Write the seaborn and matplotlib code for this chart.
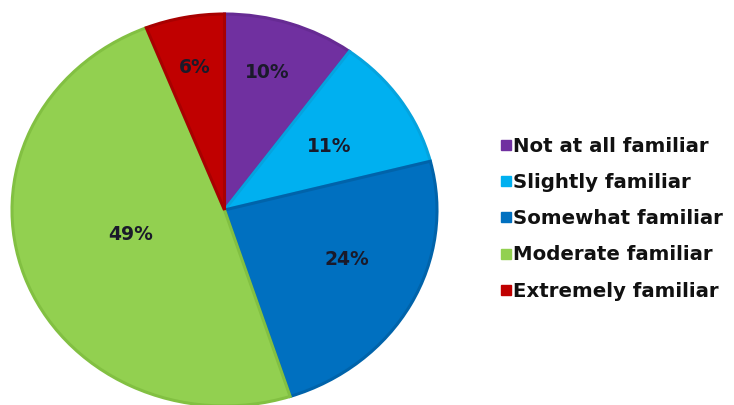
import numpy as np
import matplotlib
matplotlib.use("Agg")
import matplotlib.pyplot as plt
import seaborn as sns
from matplotlib.lines import Line2D

# Familiarity survey shares (percent)
categories = ["Not at all familiar", "Slightly familiar", "Somewhat familiar",
              "Moderate familiar", "Extremely familiar"]
shares = [10, 11, 24, 49, 6]

fill_colors = ["#7030A0", "#00B0F0", "#0070C0", "#92D050", "#C00000"]
edge_colors = ["#662b93", "#05a3de", "#0063aa", "#82c042", "#a80000"]

# label placement inside each slice: radial distance and small angular nudge
label_radius = [0.73, 0.59, 0.63, 0.46, 0.74]
label_nudge = [2, -1, 5, -4, 0]

sns.set_theme(style="white")
palette = sns.color_palette(fill_colors)
plt.rcParams["font.family"] = ["DejaVu Sans"]

W, H = 734, 405
fig = plt.figure(figsize=(W / 100, H / 100), dpi=100)
fig.patch.set_facecolor("white")

# pie occupies a slightly wide ellipse on the left
ax = fig.add_axes([12 / W, (H - 406) / H, 425 / W, 392 / H])
wedges, _ = ax.pie(shares, colors=palette, startangle=90, counterclock=False,
                   radius=1.0,
                   wedgeprops=dict(linewidth=2.2))
for w, ec in zip(wedges, edge_colors):
    w.set_edgecolor(ec)
    w.set_joinstyle("miter")
ax.set_aspect("auto")
ax.set_xlim(-1, 1)
ax.set_ylim(-1, 1)
ax.axis("off")

for w, val, r, dn in zip(wedges, shares, label_radius, label_nudge):
    mid = np.deg2rad((w.theta1 + w.theta2) / 2 + dn)
    ax.text(r * np.cos(mid), r * np.sin(mid), f"{val}%",
            ha="center", va="center", fontsize=13.5, fontweight="bold",
            color="#1a1a2a")

handles = [Line2D([0], [0], marker="s", linestyle="none", markersize=7.0,
                  markerfacecolor=c, markeredgecolor=c) for c in palette]
leg = fig.legend(handles, categories, loc="upper left",
                 bbox_to_anchor=(500 / W, 1 - 137 / H),
                 frameon=False, borderpad=0, borderaxespad=0,
                 handlelength=0.6, handletextpad=0.05, labelspacing=0.87,
                 prop=dict(size=14.2, weight="bold"))
for t in leg.get_texts():
    t.set_color("#111111")

fig.savefig("out.png", dpi=100, facecolor="white")
